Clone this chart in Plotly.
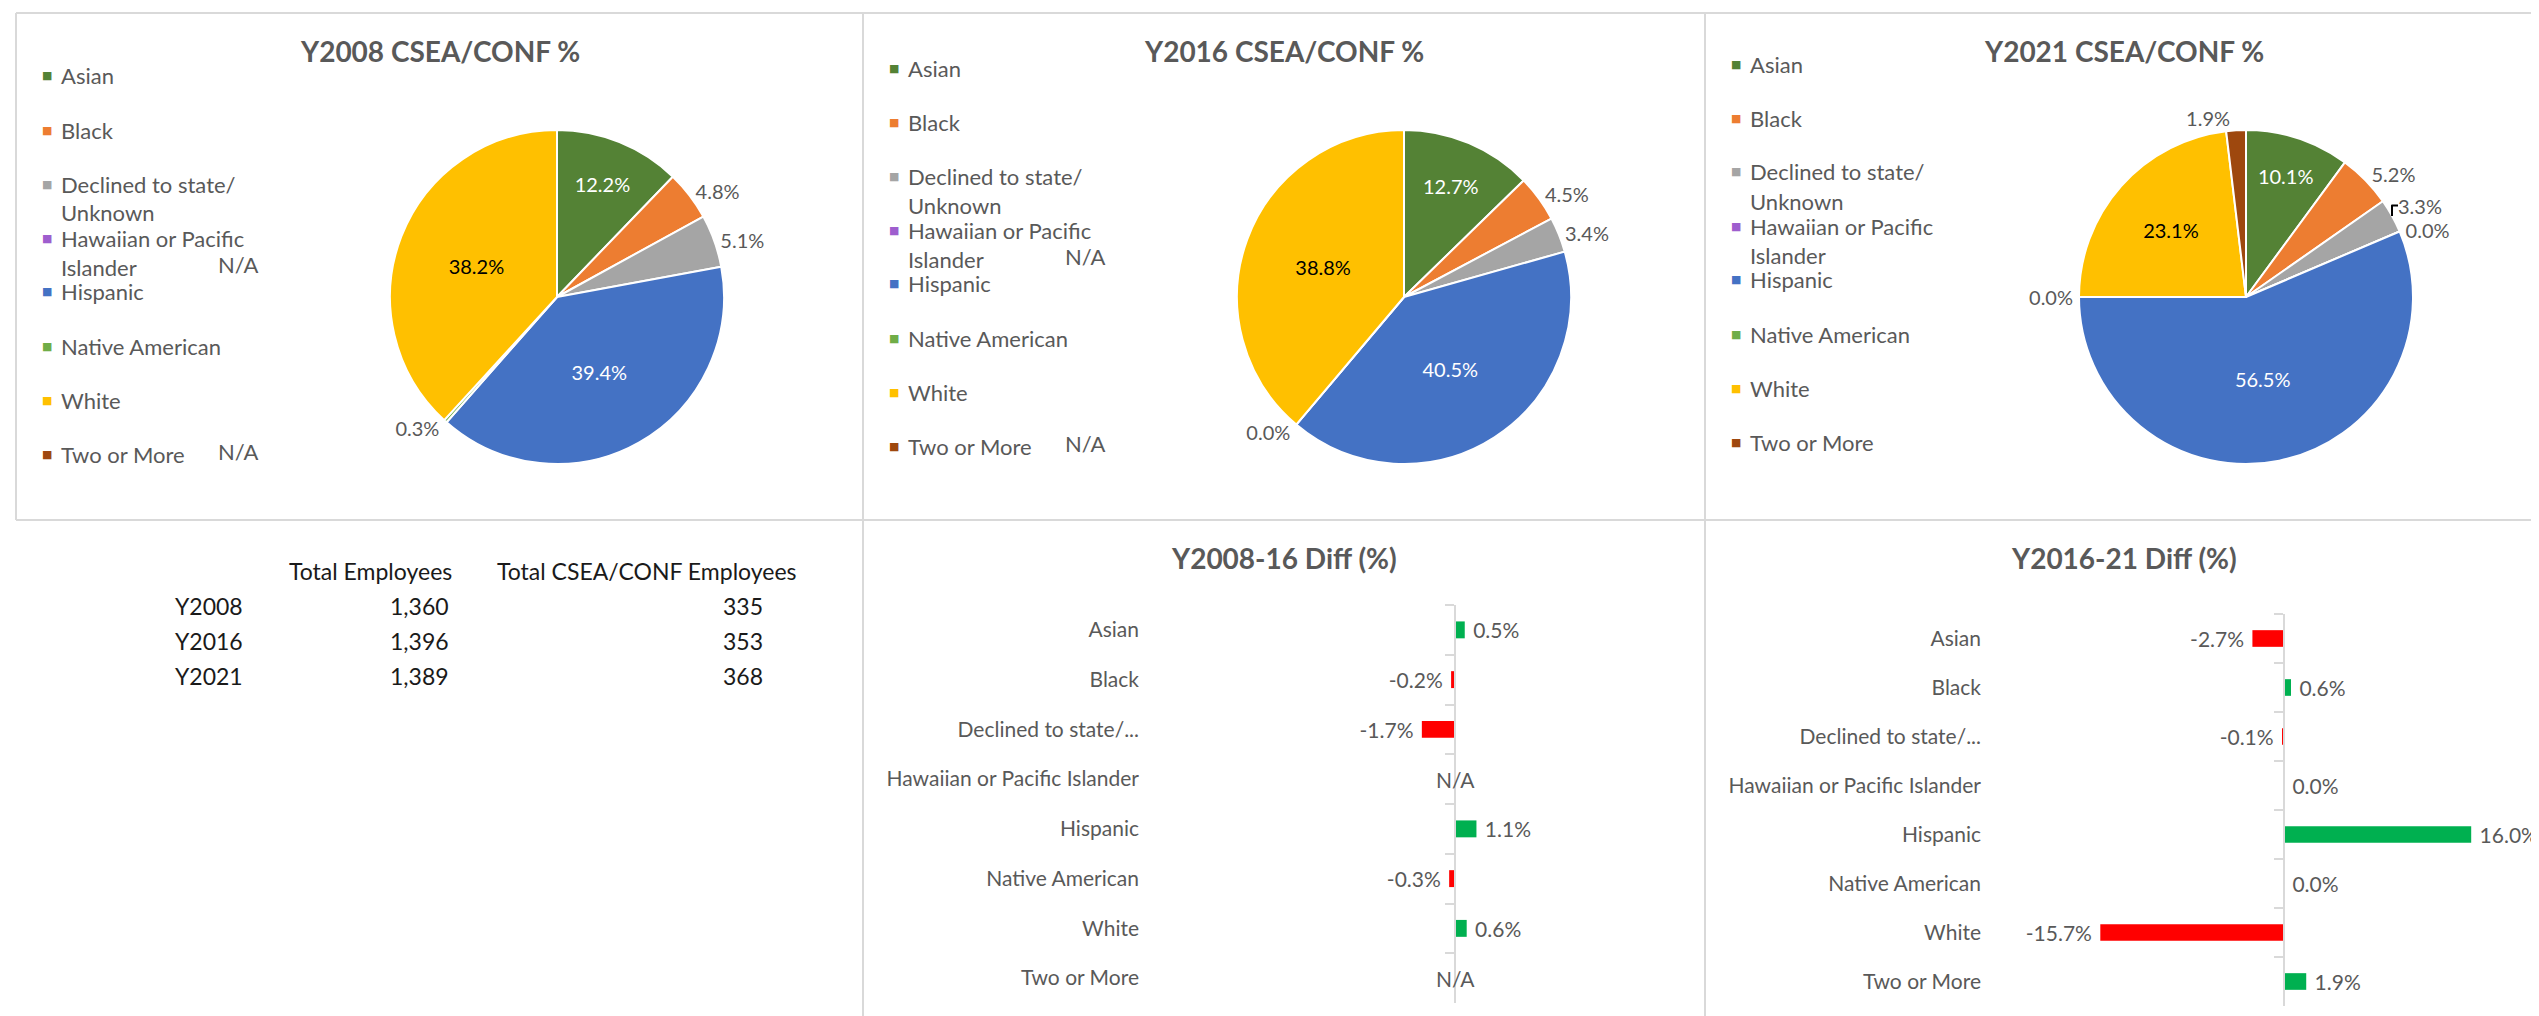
import plotly.graph_objects as go

W, H = 2539, 1016
FONT = "Lato"
GRAY_TEXT = "#595959"
BORDER = "#D9D9D9"

# ---- data -------------------------------------------------------------
groups = ["Asian", "Black", "Declined to state/ Unknown", "Hawaiian or Pacific Islander",
          "Hispanic", "Native American", "White", "Two or More"]
legend_lines = [["Asian"], ["Black"], ["Declined to state/", "Unknown"],
                ["Hawaiian or Pacific", "Islander"], ["Hispanic"], ["Native American"],
                ["White"], ["Two or More"]]
bar_labels = ["Asian", "Black", "Declined to state/...", "Hawaiian or Pacific Islander",
              "Hispanic", "Native American", "White", "Two or More"]
group_colors = ["#548235", "#ED7D31", "#A5A5A5", "#9E5ECE", "#4472C4", "#70AD47", "#FFC000", "#9E480E"]

# None = N/A in the source sheet
pct_2008 = [12.2, 4.8, 5.1, None, 39.4, 0.3, 38.2, None]
pct_2016 = [12.7, 4.5, 3.4, None, 40.5, 0.0, 38.8, None]
pct_2021 = [10.1, 5.2, 3.3, 0.0, 56.5, 0.0, 23.1, 1.9]

diff_08_16 = [0.5, -0.2, -1.7, None, 1.1, -0.3, 0.6, None]
diff_16_21 = [-2.7, 0.6, -0.1, 0.0, 16.0, 0.0, -15.7, 1.9]

table_years = ["Y2008", "Y2016", "Y2021"]
total_employees = [1360, 1396, 1389]
total_csea = [335, 353, 368]


def px(x):
    return x / W


def py(y):
    return 1 - y / H


def text_ann(x, y, text, size=22, color=GRAY_TEXT, xanchor="left", bold=False):
    if bold:
        text = f"<b>{text}</b>"
    fig.add_annotation(x=px(x), y=py(y), xref="paper", yref="paper", text=text,
                       showarrow=False, xanchor=xanchor, yanchor="middle",
                       font=dict(family=FONT, size=size, color=color))


fig = go.Figure()

# ---- pies (top row) ---------------------------------------------------
panel_left = [8, 855, 1697]
panel_right = [855, 1697, 2534]
pie_values = [pct_2008, pct_2016, pct_2021]
pie_titles = ["Y2008 CSEA/CONF %", "Y2016 CSEA/CONF %", "Y2021 CSEA/CONF %"]
legend_top = [68, 60, 56]
R = 167

for k, vals in enumerate(pie_values):
    left = panel_left[k]
    cx, cy = left + 541, 289
    positions = ["inside" if (v or 0) >= 10 else "outside" for v in vals]
    label_colors = []
    for name, pos in zip(groups, positions):
        if pos == "outside":
            label_colors.append(GRAY_TEXT)
        elif name == "White":
            label_colors.append("#000000")
        else:
            label_colors.append("#FFFFFF")
    fig.add_trace(go.Pie(
        labels=groups, values=vals, sort=False, direction="clockwise", rotation=0,
        marker=dict(colors=group_colors, line=dict(color="white", width=2)),
        texttemplate="%{value:.1f}%", textposition=positions,
        textfont=dict(family=FONT, size=20, color=label_colors),
        insidetextorientation="horizontal",
        domain=dict(x=[px(cx - R), px(cx + R)], y=[py(cy + R), py(cy - R)]),
        showlegend=False, hoverinfo="label+value",
    ))

    text_ann((panel_left[k] + panel_right[k]) / 2, 43, pie_titles[k], size=28, xanchor="center", bold=True)

    for i, lines in enumerate(legend_lines):
        y = legend_top[k] + 54 * i
        fig.add_annotation(x=px(left + 31), y=py(y), xref="paper", yref="paper", text="■",
                           showarrow=False, xanchor="center", yanchor="middle",
                           font=dict(family="DejaVu Sans", size=11, color=group_colors[i]))
        for j, line in enumerate(lines):
            text_ann(left + 43, y + 29 * j, line)
        if vals[i] is None:
            text_ann(left + 222, y + 29 * (len(lines) - 1) - 3, "N/A", xanchor="center")

# ---- diff bars (bottom row) -------------------------------------------
diffs = [diff_08_16, diff_16_21]
bar_titles = ["Y2008-16 Diff (%)", "Y2016-21 Diff (%)"]
bar_frames = [dict(left=1132, right=1680, top=597, bottom=995, zero=1447, scale=19.5),
              dict(left=1974, right=2528, top=606, bottom=998, zero=2276, scale=11.7)]
NBSP = "\u00a0"

for k, vals in enumerate(diffs):
    f = bar_frames[k]
    sfx = "" if k == 0 else str(k + 1)
    ax_sfx = str(k + 3)  # overlay axis carrying the zero line + boundary ticks
    labels = [None if v is None else (NBSP + f"{v:.1f}%" if v >= 0 else f"{v:.1f}%" + NBSP) for v in vals]
    fig.add_trace(go.Bar(
        x=vals, y=bar_labels, orientation="h",
        marker=dict(color=["#00B050" if (v or 0) >= 0 else "#FF0000" for v in vals], line_width=0),
        text=labels, textposition="outside", cliponaxis=False, constraintext="none",
        textfont=dict(family=FONT, size=21, color=GRAY_TEXT),
        xaxis="x" + sfx, yaxis="y" + sfx, showlegend=False, hoverinfo="y+x",
    ))
    # invisible helper so the overlay category axis gets the same categories
    fig.add_trace(go.Scatter(
        x=[0] * len(bar_labels), y=bar_labels, mode="lines", line=dict(width=0), opacity=0,
        xaxis="x" + sfx, yaxis="y" + ax_sfx, showlegend=False, hoverinfo="skip",
    ))
    x_rng = [-(f["zero"] - f["left"]) / f["scale"], (f["right"] - f["zero"]) / f["scale"]]
    n = len(bar_labels)
    fig.update_layout(**{
        "xaxis" + sfx: dict(domain=[px(f["left"]), px(f["right"])], range=x_rng, anchor="y" + sfx,
                            showgrid=False, showticklabels=False, ticks="", showline=False,
                            zeroline=False),
        "yaxis" + sfx: dict(domain=[py(f["bottom"]), py(f["top"])], anchor="x" + sfx,
                            range=[n - 0.5, -0.5], showgrid=False, ticks="", showline=False,
                            zeroline=False, tickfont=dict(family=FONT, size=21, color=GRAY_TEXT)),
        "yaxis" + ax_sfx: dict(overlaying="y" + sfx, anchor="free", position=px(f["zero"]), side="left",
                               range=[n - 0.5, -0.5], showgrid=False, showticklabels=False,
                               showline=True, linecolor=BORDER, linewidth=2,
                               ticks="outside", tickson="boundaries", ticklen=9,
                               tickcolor=BORDER, tickwidth=2, zeroline=False),
    })
    for name, v in zip(bar_labels, vals):
        if v is None:
            fig.add_annotation(x=0, y=name, xref="x" + sfx, yref="y" + sfx, text="N/A",
                               showarrow=False, xanchor="center",
                               font=dict(family=FONT, size=21, color=GRAY_TEXT))
    text_ann((panel_left[k + 1] + panel_right[k + 1]) / 2, 550, bar_titles[k], size=28,
             xanchor="center", bold=True)

fig.update_layout(bargap=0.66)

# ---- totals table (bottom left) ---------------------------------------
TABLE_TEXT = "#1a1a1a"
text_ann(362, 563, "Total Employees", size=23, color=TABLE_TEXT, xanchor="center")
text_ann(639, 563, "Total CSEA/CONF Employees", size=23, color=TABLE_TEXT, xanchor="center")
for i, year in enumerate(table_years):
    y = 598 + 35 * i
    text_ann(165, y, year, size=23, color=TABLE_TEXT)
    text_ann(443, y, f"{total_employees[i]:,}", size=23, color=TABLE_TEXT, xanchor="right")
    text_ann(757, y, f"{total_csea[i]:,}", size=23, color=TABLE_TEXT, xanchor="right")

# ---- panel borders ----------------------------------------------------
border_lines = [(8, 5, 2534, 5), (8, 5, 8, 512), (8, 512, 2534, 512),
                (855, 5, 855, 1016), (1697, 5, 1697, 1016), (2534, 5, 2534, 1016)]
for x0, y0, x1, y1 in border_lines:
    fig.add_shape(type="line", xref="paper", yref="paper", x0=px(x0), y0=py(y0), x1=px(x1), y1=py(y1),
                  line=dict(color=BORDER, width=2))

fig.update_layout(width=W, height=H, margin=dict(l=0, r=0, t=0, b=0),
                  paper_bgcolor="white", plot_bgcolor="white", showlegend=False)

fig.write_html("out.html")
